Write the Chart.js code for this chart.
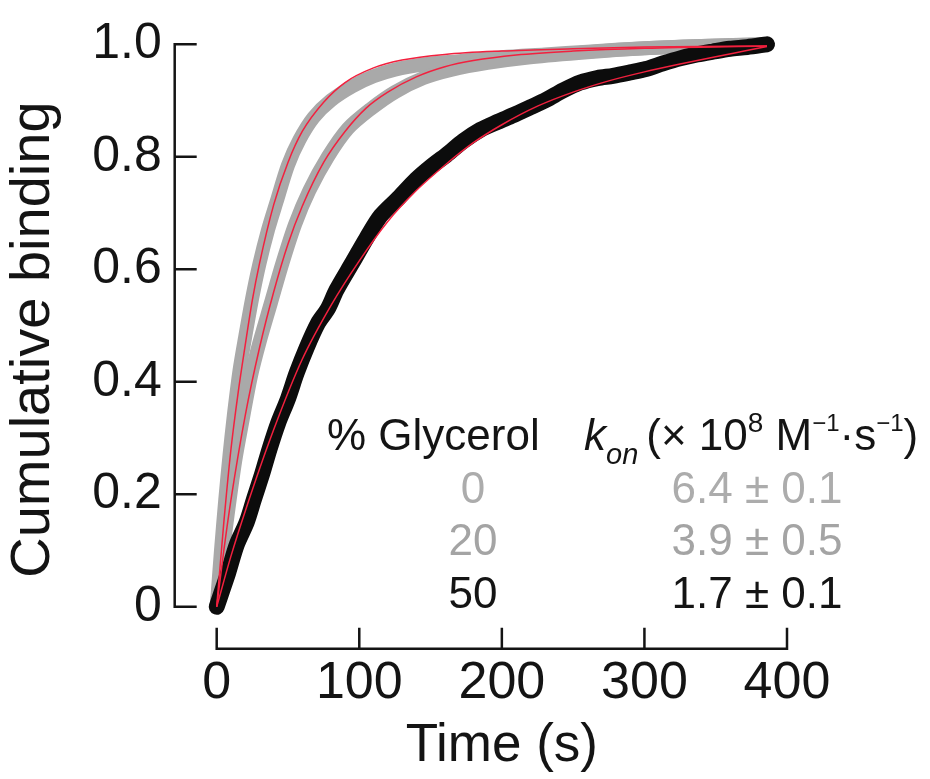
<!DOCTYPE html>
<html>
<head>
<meta charset="utf-8">
<script src="https://cdn.jsdelivr.net/npm/chart.js@4.4.1/dist/chart.umd.min.js"></script>
<style>
  html, body { margin: 0; padding: 0; background: #ffffff; }
  #wrap { width: 930px; height: 779px; }
</style>
</head>
<body>
<div id="wrap"><canvas id="c" width="930" height="779" style="width:930px;height:779px"></canvas></div>
<script>
// ---- data ----
const xTickValues = [0, 100, 200, 300, 400];
const yTickValues = [0, 0.2, 0.4, 0.6, 0.8, 1.0];

// 0 % glycerol (measured, grey)
const tData0 = [0,3,6,9,12,16,20,25,30,36,42,50,58,68,80,95,110,125,145,170,200,230,260,300,340,385];
const yData0 = [0,0.1,0.19,0.27,0.34,0.42,0.48,0.55,0.61,0.67,0.72,0.785,0.83,0.87,0.9,0.925,0.943,0.955,0.964,0.97,0.977,0.982,0.987,0.993,0.997,1.0];
// 20 % glycerol (measured, grey)
const tData20 = [0,4,8,13,18,24,30,38,46,55,65,78,92,108,125,145,165,190,220,260,300,340,385];
const yData20 = [0,0.09,0.17,0.26,0.33,0.41,0.47,0.54,0.61,0.68,0.74,0.80,0.85,0.885,0.915,0.94,0.955,0.967,0.977,0.986,0.993,0.997,1.0];
// 50 % glycerol (measured, black)
const tData50 = [0,4,8,14,21,26,32,37,43,50,56,63,71,78,84,95,105,115,128,140,150,161,173,185,197,208,220,231,243,255,267,278,290,301,313,325,337,348,360,372,386];
const yData50 = [0,0.03,0.06,0.11,0.15,0.19,0.237,0.28,0.326,0.37,0.415,0.46,0.504,0.53,0.563,0.611,0.655,0.695,0.728,0.76,0.782,0.803,0.828,0.848,0.862,0.874,0.888,0.901,0.918,0.932,0.94,0.944,0.95,0.956,0.966,0.975,0.982,0.987,0.992,0.995,1.0];

// fitted curves (red)
const tFit0 = [0,5,10,15,20,25,30,40,50,60,75,90,110,130,160,200,250,300,386];
const yFit0 = [0,0.15,0.28,0.38,0.465,0.545,0.61,0.715,0.79,0.845,0.897,0.932,0.958,0.972,0.982,0.988,0.992,0.995,0.997];
const tFit20 = [0,5,10,20,30,40,50,60,75,90,105,120,140,160,180,210,250,300,386];
const yFit20 = [0,0.1,0.19,0.34,0.46,0.56,0.645,0.712,0.79,0.845,0.887,0.915,0.942,0.96,0.971,0.981,0.988,0.993,0.997];
const tFit50 = [0,10,20,40,60,80,100,120,140,160,180,200,225,250,275,300,325,350,370,386];
const yFit50 = [0,0.09,0.17,0.315,0.44,0.535,0.615,0.685,0.74,0.785,0.825,0.857,0.89,0.915,0.935,0.951,0.965,0.978,0.988,0.996];

// table text
const glycerolLabels = ['0', '20', '50'];
const konLabels = ['6.4 \u00B1 0.1', '3.9 \u00B1 0.5', '1.7 \u00B1 0.1'];

// ---- styling ----
const FONT = "'Liberation Sans', Arial, Helvetica, sans-serif";
const INK = '#141414';
const GREY = '#a9a9a9';
const RED = '#f2203e';
const rowColors = ['#acacac', '#a4a4a4', '#141414'];

function pts(ts, ys) { return ts.map((t, i) => ({ x: t, y: ys[i] })); }

const dataStyle = (color, w, order) => ({
  borderColor: color, backgroundColor: color, borderWidth: w,
  pointRadius: 0, tension: 0.3, borderCapStyle: 'round', borderJoinStyle: 'round',
  fill: false, clip: false, order: order
});
const fitStyle = (order) => ({
  borderColor: RED, backgroundColor: RED, borderWidth: 1.5,
  pointRadius: 0, cubicInterpolationMode: 'monotone', fill: false, clip: false, order: order
});

// axes drawn offset from the plot, like the reference
const offsetAxes = {
  id: 'offsetAxes',
  beforeDatasetsDraw(chart) {
    const { ctx, scales: { x, y } } = chart;
    const gap = 42;
    const x0 = x.getPixelForValue(xTickValues[0]);
    const x1 = x.getPixelForValue(xTickValues[xTickValues.length - 1]);
    const y0 = y.getPixelForValue(yTickValues[0]);
    const y1 = y.getPixelForValue(yTickValues[yTickValues.length - 1]);
    const axY = y0 + gap, axX = x0 - gap;
    ctx.save();
    ctx.strokeStyle = INK; ctx.lineWidth = 2.5; ctx.lineCap = 'butt';
    ctx.beginPath();
    ctx.moveTo(x0, axY); ctx.lineTo(x1 + 1.25, axY);
    xTickValues.forEach(v => { const p = x.getPixelForValue(v); ctx.moveTo(p, axY + 1.25); ctx.lineTo(p, axY - 21); });
    ctx.moveTo(axX, y1); ctx.lineTo(axX, y0 + 1.25);
    yTickValues.forEach(v => { const p = y.getPixelForValue(v); ctx.moveTo(axX - 1.25, p); ctx.lineTo(axX + 22, p); });
    ctx.stroke();
    ctx.restore();
  }
};

const table = {
  id: 'table',
  afterDraw(chart) {
    const { ctx } = chart;
    ctx.save();
    ctx.textBaseline = 'alphabetic';
    // header
    ctx.fillStyle = INK;
    ctx.font = `44px ${FONT}`;
    ctx.textAlign = 'left';
    ctx.fillText('% Glycerol', 327, 450);
    let cx = 584;
    const put = (txt, size, dy, italic) => {
      ctx.font = `${italic ? 'italic ' : ''}${size}px ${FONT}`;
      ctx.fillText(txt, cx, 450 + dy);
      cx += ctx.measureText(txt).width;
    };
    put('k', 44, 0, true);
    put('on', 29, 14, true);
    cx += 8;
    put('(\u00D7 10', 44, 0, false);
    put('8', 28, -18, false);
    put(' M', 44, 0, false);
    put('\u22121', 24, -19, false);
    put('\u00B7s', 44, 0, false);
    put('\u22121', 24, -19, false);
    put(')', 44, 0, false);
    // rows
    const rowY = [503, 555, 608];
    ctx.font = `44px ${FONT}`;
    ctx.textAlign = 'center';
    rowY.forEach((yy, i) => {
      ctx.fillStyle = rowColors[i];
      ctx.fillText(glycerolLabels[i], 473, yy);
      ctx.fillText(konLabels[i], 757, yy);
    });
    ctx.restore();
  }
};

const noOverflow = s => { s.paddingTop = 0; s.paddingBottom = 0; s.paddingLeft = 0; s.paddingRight = 0; };

new Chart(document.getElementById('c'), {
  type: 'line',
  data: {
    datasets: [
      Object.assign({ label: '0% glycerol', data: pts(tData0, yData0) }, dataStyle(GREY, 14, 6)),
      Object.assign({ label: '20% glycerol', data: pts(tData20, yData20) }, dataStyle(GREY, 14, 5)),
      Object.assign({ label: '50% glycerol', data: pts(tData50, yData50) }, dataStyle('#0c0c0c', 16, 4)),
      Object.assign({ label: 'fit 0%', data: pts(tFit0, yFit0) }, fitStyle(3)),
      Object.assign({ label: 'fit 20%', data: pts(tFit20, yFit20) }, fitStyle(2)),
      Object.assign({ label: 'fit 50%', data: pts(tFit50, yFit50) }, fitStyle(1))
    ]
  },
  options: {
    responsive: false,
    animation: false,
    devicePixelRatio: 1,
    layout: { padding: { top: 44.3, right: 143, left: 0, bottom: 0 } },
    plugins: { legend: { display: false }, tooltip: { enabled: false } },
    scales: {
      x: {
        type: 'linear', min: 0, max: 400,
        afterBuildTicks: s => { s.ticks = xTickValues.map(v => ({ value: v })); },
        afterFit: s => { s.height = 144.1; noOverflow(s); },
        grid: { display: false, drawTicks: false },
        border: { display: false },
        ticks: { font: { size: 52, family: FONT }, color: INK, padding: 18, maxRotation: 0, autoSkip: false,
                 callback: v => String(v) },
        title: { display: true, text: 'Time (s)', color: INK, font: { size: 53, family: FONT }, padding: { top: 0, bottom: 1 } }
      },
      y: {
        type: 'linear', min: -0.05, max: 1.0,
        afterBuildTicks: s => { s.ticks = yTickValues.map(v => ({ value: v })); },
        afterFit: s => { s.width = 216.7; noOverflow(s); },
        grid: { display: false, drawTicks: false },
        border: { display: false },
        ticks: { font: { size: 50, family: FONT }, color: INK, padding: 55, autoSkip: false,
                 callback: v => (v === 0 ? '0' : v.toFixed(1)) },
        title: { display: true, text: 'Cumulative binding', color: INK, font: { size: 56, family: FONT }, padding: { top: 0, bottom: 0 } }
      }
    }
  },
  plugins: [offsetAxes, table]
});
</script>
</body>
</html>
